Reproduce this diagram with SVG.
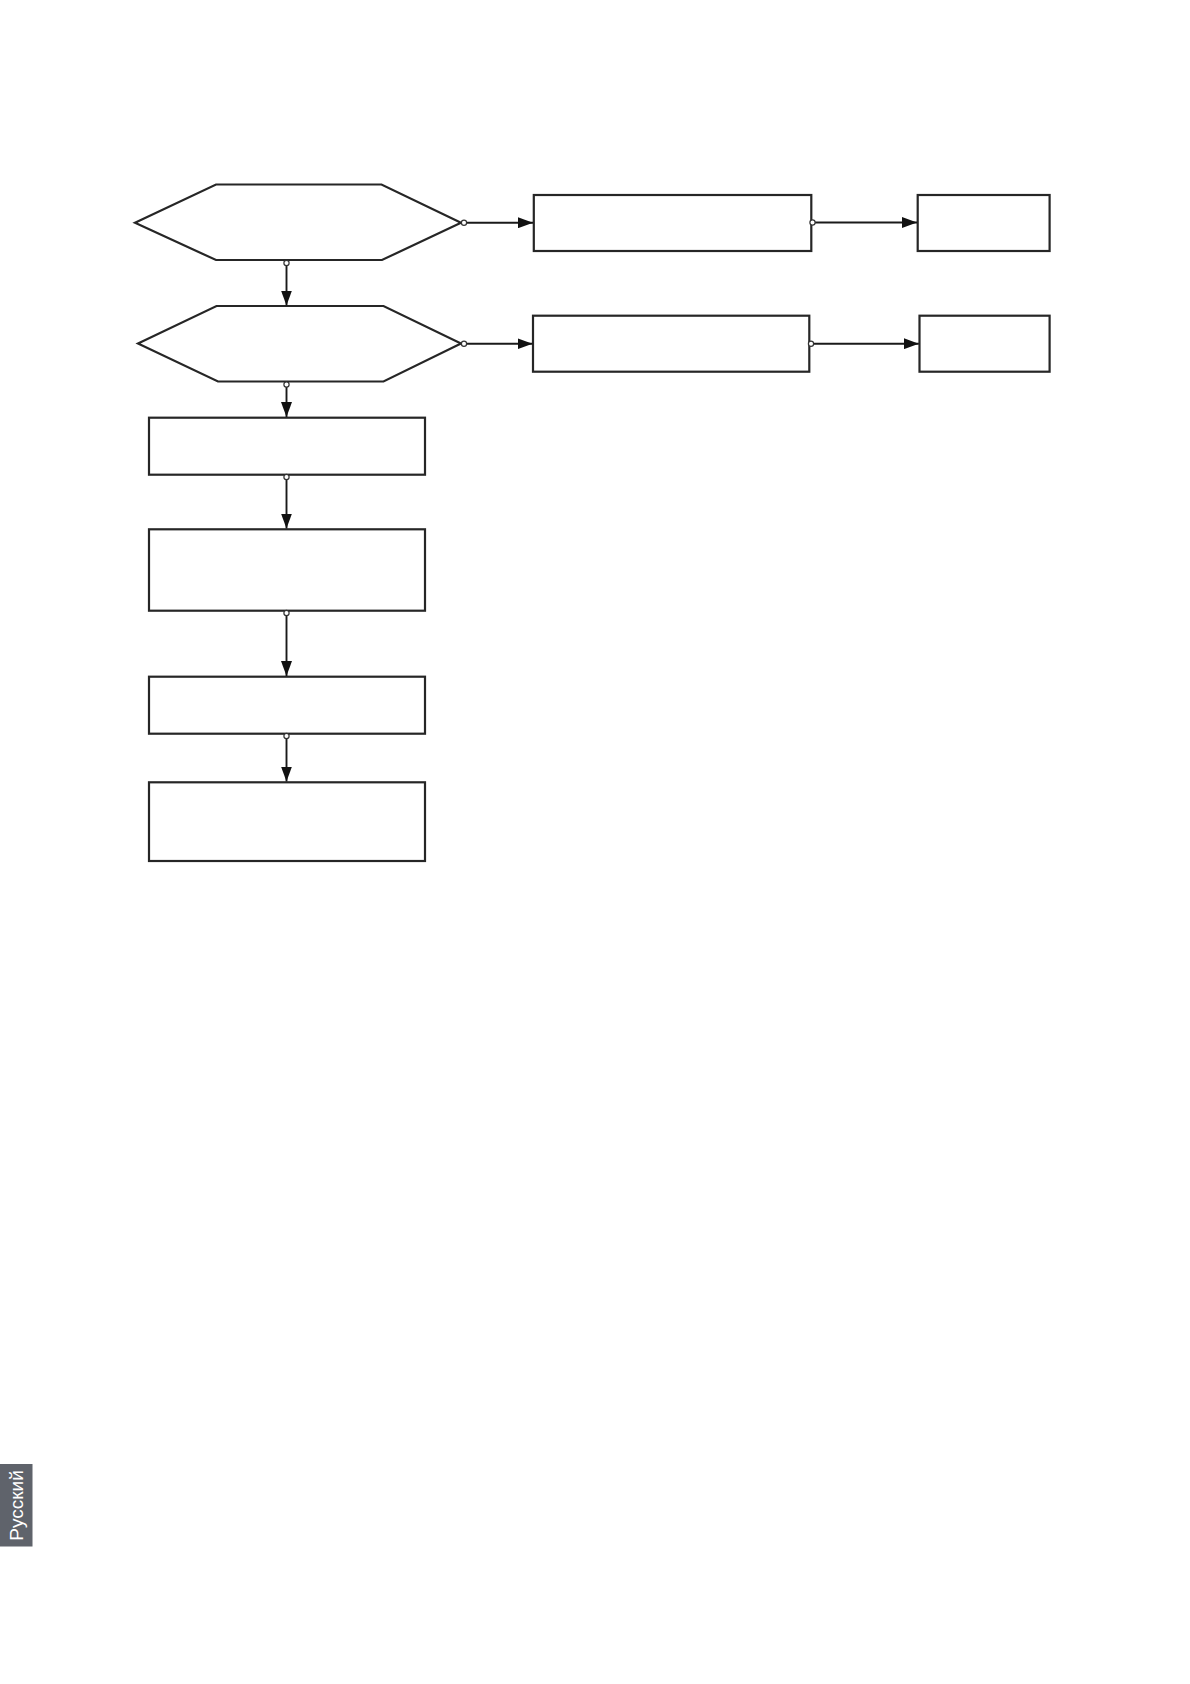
<svg xmlns="http://www.w3.org/2000/svg" width="1190" height="1684" viewBox="0 0 1190 1684">
<style>
.node{fill:#fff;stroke:#262626;stroke-width:2.2}
.conn{fill:none;stroke:#1a1a1a;stroke-width:1.9}
.dot{fill:#fff;stroke:#333;stroke-width:1.2}
.tab{fill:#5f636b}
.tabtext{font-family:"Liberation Sans",Arial,sans-serif;font-size:19px;fill:#fff}
</style>
<defs>
<marker id="arr" viewBox="0 0 15 11" refX="15" refY="5.5" markerWidth="15" markerHeight="11" markerUnits="userSpaceOnUse" orient="auto">
<path d="M0,0 L15,5.5 L0,11 Z" fill="#111"/>
</marker>
</defs>
<rect width="1190" height="1684" fill="#fff"/>
<g id="hex1"><polygon class="node" points="135,222.7 216,184.5 381.5,184.5 461,222.7 382,260 216,260"/></g>
<g id="hex2"><polygon class="node" points="138,343.5 216.5,306 383.5,306 461,343.5 383.5,381.5 218,381.5"/></g>
<g id="box1"><rect class="node" x="533.8" y="195" width="277.5" height="56"/></g>
<g id="box2"><rect class="node" x="917.7" y="195" width="131.9" height="56"/></g>
<g id="box3"><rect class="node" x="533" y="315.7" width="276.3" height="56"/></g>
<g id="box4"><rect class="node" x="919.5" y="315.7" width="130.1" height="56"/></g>
<g id="box5"><rect class="node" x="149" y="417.7" width="276" height="57"/></g>
<g id="box6"><rect class="node" x="149" y="529.3" width="276" height="81.4"/></g>
<g id="box7"><rect class="node" x="149" y="676.7" width="276" height="57"/></g>
<g id="box8"><rect class="node" x="149" y="782.3" width="276" height="78.7"/></g>
<g id="connectors">
<line class="conn" x1="465.5" y1="222.7" x2="533" y2="222.7" marker-end="url(#arr)"/>
<line class="conn" x1="814.5" y1="222.5" x2="917" y2="222.5" marker-end="url(#arr)"/>
<line class="conn" x1="465.5" y1="343.7" x2="532.5" y2="343.7" marker-end="url(#arr)"/>
<line class="conn" x1="812.5" y1="343.7" x2="918.8" y2="343.7" marker-end="url(#arr)"/>
<line class="conn" x1="286.5" y1="264" x2="286.5" y2="305.5" marker-end="url(#arr)"/>
<line class="conn" x1="286.5" y1="385" x2="286.5" y2="417" marker-end="url(#arr)"/>
<line class="conn" x1="286.5" y1="478" x2="286.5" y2="528.5" marker-end="url(#arr)"/>
<line class="conn" x1="286.5" y1="614" x2="286.5" y2="676" marker-end="url(#arr)"/>
<line class="conn" x1="286.5" y1="737" x2="286.5" y2="781.5" marker-end="url(#arr)"/>
<circle class="dot" cx="464" cy="222.7" r="2.6"/>
<circle class="dot" cx="812.5" cy="222.5" r="2.6"/>
<circle class="dot" cx="464" cy="343.7" r="2.6"/>
<circle class="dot" cx="811" cy="343.7" r="2.6"/>
<circle class="dot" cx="286.5" cy="263" r="2.6"/>
<circle class="dot" cx="286.5" cy="384.5" r="2.6"/>
<circle class="dot" cx="286.5" cy="477" r="2.6"/>
<circle class="dot" cx="286.5" cy="613" r="2.6"/>
<circle class="dot" cx="286.5" cy="736" r="2.6"/>
</g>
<g id="lang-tab">
<rect class="tab" x="0" y="1464" width="32.5" height="82.5"/>
<text class="tabtext" transform="translate(22.5,1505.5) rotate(-90)" text-anchor="middle">Русский</text>
</g>
</svg>
